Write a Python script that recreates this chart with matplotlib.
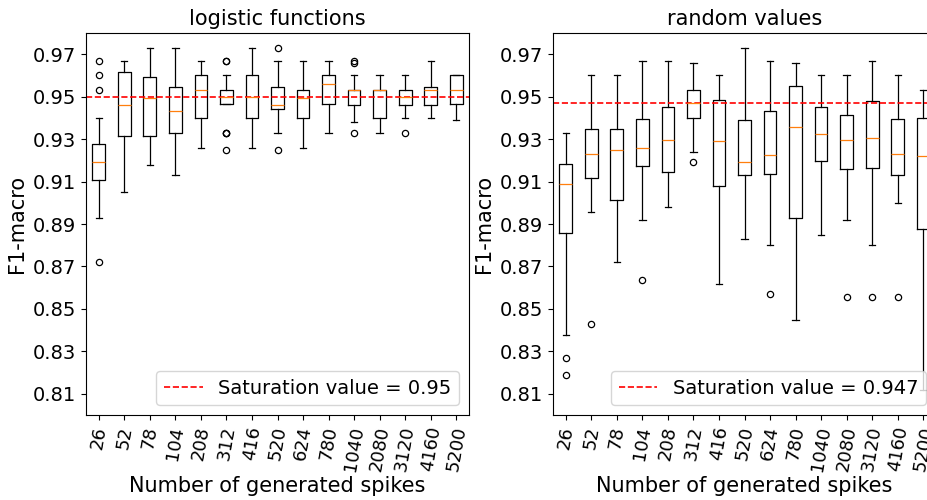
import matplotlib
matplotlib.use("Agg")
import matplotlib.pyplot as plt

spikes = ["26", "52", "78", "104", "208", "312", "416", "520", "624", "780",
          "1040", "2080", "3120", "4160", "5200"]

# logistic functions: box stats
log_med = [0.9193, 0.9459, 0.9495, 0.9431, 0.953, 0.950, 0.950, 0.9459, 0.9495, 0.956,
           0.953, 0.953, 0.950, 0.953, 0.953]
log_q1 = [0.9108, 0.9314, 0.9317, 0.9328, 0.9398, 0.9465, 0.940, 0.9443, 0.940, 0.9467,
          0.946, 0.940, 0.946, 0.946, 0.9467]
log_q3 = [0.9276, 0.9615, 0.9591, 0.9544, 0.960, 0.953, 0.960, 0.9546, 0.953, 0.960,
          0.953, 0.953, 0.953, 0.9547, 0.960]
log_lo = [0.893, 0.905, 0.918, 0.913, 0.926, 0.9465, 0.926, 0.933, 0.926, 0.933,
          0.938, 0.933, 0.940, 0.940, 0.939]
log_hi = [0.940, 0.967, 0.973, 0.973, 0.967, 0.960, 0.973, 0.967, 0.967, 0.967,
          0.960, 0.960, 0.960, 0.967, 0.960]
log_fliers = [[0.967, 0.960, 0.953, 0.872], [], [], [], [],
              [0.967, 0.967, 0.933, 0.933, 0.933, 0.925], [], [0.973, 0.925], [], [],
              [0.967, 0.966, 0.933], [], [0.933], [], []]
log_sat = 0.95

# random values
rnd_med = [0.9089, 0.9229, 0.925, 0.926, 0.9297, 0.947, 0.9289, 0.9194, 0.9224, 0.9355,
           0.9324, 0.9297, 0.9305, 0.9229, 0.922]
rnd_q1 = [0.8856, 0.9116, 0.9014, 0.9174, 0.9147, 0.940, 0.908, 0.913, 0.9135, 0.8927,
          0.9199, 0.9157, 0.9165, 0.913, 0.8878]
rnd_q3 = [0.9182, 0.9346, 0.9346, 0.9394, 0.945, 0.953, 0.9484, 0.939, 0.9432, 0.9552,
          0.945, 0.9413, 0.948, 0.9394, 0.940]
rnd_lo = [0.8377, 0.8958, 0.8719, 0.8917, 0.8979, 0.9239, 0.8618, 0.8828, 0.8799, 0.8448,
          0.885, 0.8917, 0.8799, 0.8999, 0.812]
rnd_hi = [0.9328, 0.960, 0.960, 0.967, 0.967, 0.966, 0.960, 0.973, 0.967, 0.966,
          0.960, 0.960, 0.967, 0.960, 0.953]
rnd_fliers = [[0.8268, 0.8188], [0.8427], [], [0.8637], [], [0.919], [], [], [0.8568], [],
              [], [0.8558], [0.8558], [0.8558], []]
rnd_sat = 0.947


def make_stats(med, q1, q3, lo, hi, fliers):
    stats = []
    for i in range(len(med)):
        stats.append(dict(med=med[i], q1=q1[i], q3=q3[i], whislo=lo[i],
                          whishi=hi[i], fliers=fliers[i]))
    return stats


fig = plt.figure(figsize=(9.27, 5), dpi=100)
ax1 = fig.add_axes([86 / 927, 85 / 500, 383 / 927, 382 / 500])
ax2 = fig.add_axes([553 / 927, 85 / 500, 383 / 927, 382 / 500])

panels = [
    (ax1, "logistic functions", make_stats(log_med, log_q1, log_q3, log_lo, log_hi, log_fliers), log_sat),
    (ax2, "random values", make_stats(rnd_med, rnd_q1, rnd_q3, rnd_lo, rnd_hi, rnd_fliers), rnd_sat),
]

line = dict(linewidth=0.9)
for ax, title, stats, sat in panels:
    ax.bxp(stats, showfliers=True,
           boxprops=line, whiskerprops=line, capprops=line,
           medianprops=dict(linewidth=0.9, color="C1"),
           flierprops=dict(marker="o", markersize=4.5, markeredgewidth=0.9,
                           markerfacecolor="none"))
    ax.axhline(sat, color="red", linestyle="--", linewidth=1.2,
               label=f"Saturation value = {sat}")
    ax.set_ylim(0.80, 0.98)
    ax.set_yticks([0.81, 0.83, 0.85, 0.87, 0.89, 0.91, 0.93, 0.95, 0.97])
    ax.set_xticks(range(1, len(spikes) + 1))
    ax.set_xticklabels(spikes, rotation=80)
    ax.tick_params(axis="y", labelsize=14)
    ax.tick_params(axis="x", labelsize=13)
    ax.set_title(title, fontsize=15)
    ax.set_ylabel("F1-macro", fontsize=15)
    ax.set_xlabel("Number of generated spikes", fontsize=15, labelpad=2)
    ax.legend(loc="lower right", fontsize=14)

fig.savefig("out.png", dpi=100)
